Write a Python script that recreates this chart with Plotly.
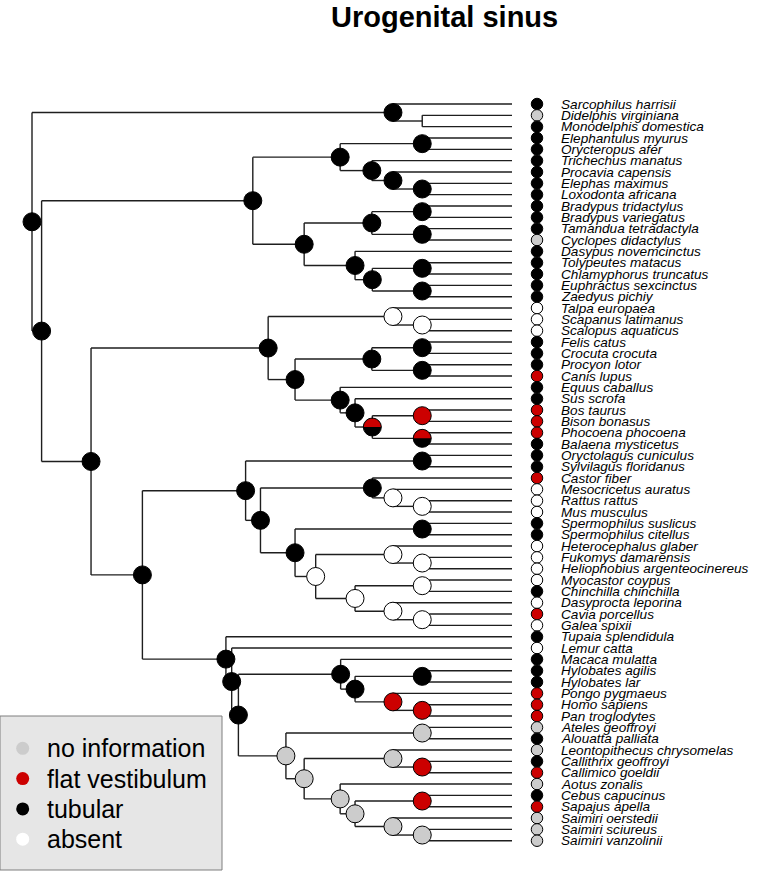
import numpy as np
import plotly.graph_objects as go

# ---------------- data ----------------
tip_names = [
    "Sarcophilus harrisii", "Didelphis virginiana", "Monodelphis domestica",
    "Elephantulus myurus", "Orycteropus afer", "Trichechus manatus",
    "Procavia capensis", "Elephas maximus", "Loxodonta africana",
    "Bradypus tridactylus", "Bradypus variegatus", "Tamandua tetradactyla",
    "Cyclopes didactylus", "Dasypus novemcinctus", "Tolypeutes matacus",
    "Chlamyphorus truncatus", "Euphractus sexcinctus", "Zaedyus pichiy",
    "Talpa europaea", "Scapanus latimanus", "Scalopus aquaticus",
    "Felis catus", "Crocuta crocuta", "Procyon lotor", "Canis lupus",
    "Equus caballus", "Sus scrofa", "Bos taurus", "Bison bonasus",
    "Phocoena phocoena", "Balaena mysticetus", "Oryctolagus cuniculus",
    "Sylvilagus floridanus", "Castor fiber", "Mesocricetus auratus",
    "Rattus rattus", "Mus musculus", "Spermophilus suslicus",
    "Spermophilus citellus", "Heterocephalus glaber", "Fukomys damarensis",
    "Heliophobius argenteocinereus", "Myocastor coypus", "Chinchilla chinchilla",
    "Dasyprocta leporina", "Cavia porcellus", "Galea spixii",
    "Tupaia splendidula", "Lemur catta", "Macaca mulatta", "Hylobates agilis",
    "Hylobates lar", "Pongo pygmaeus", "Homo sapiens", "Pan troglodytes",
    "Ateles geoffroyi", "Alouatta palliata", "Leontopithecus chrysomelas",
    "Callithrix geoffroyi", "Callimico goeldii", "Aotus zonalis",
    "Cebus capucinus", "Sapajus apella", "Saimiri oerstedii",
    "Saimiri sciureus", "Saimiri vanzolinii",
]

# T = tubular, F = flat vestibulum, N = no information, A = absent
tip_states = list(
    "TNTTTTTTTTTTNTTTTT"   # 1-18
    "AAA"                  # 19-21
    "TTTFTTFFFT"           # 22-31
    "TTF"                  # 32-34
    "AAATTAAAATAFA"        # 35-47
    "TATTTFFF"             # 48-55
    "NTNTFNTFNNN"          # 56-66
)

tip_parent = [1, 2, 2, 6, 6, 7, 8, 9, 9, 12, 12, 13, 13, 14, 16, 16, 17, 17,
              20, 21, 21, 24, 24, 25, 25, 26, 27, 29, 29, 30, 30, 33, 33, 35,
              36, 37, 37, 39, 39, 41, 42, 42, 44, 44, 45, 46, 46, 47, 48, 50,
              52, 52, 53, 54, 54, 56, 56, 58, 59, 59, 60, 62, 62, 63, 64, 64]

node_parent = [None, 0, 1, 0, 3, 4, 5, 5, 7, 8, 4, 10, 11, 11, 10, 14, 15, 15,
               3, 18, 19, 20, 19, 22, 23, 23, 22, 26, 27, 28, 28, 18, 31, 32,
               32, 34, 35, 36, 34, 38, 38, 40, 41, 40, 43, 43, 45, 31, 47, 48,
               49, 50, 51, 51, 53, 49, 55, 55, 57, 58, 57, 60, 61, 61, 63]

# node depth from the root (tips at 100)
node_depth = [0, 75.2, 81.3, 2.0, 46.0, 64.2, 81.3, 70.8, 75.2, 81.3,
              56.7, 70.8, 81.3, 81.3, 67.3, 70.9, 81.3, 81.3, 12.3, 49.2,
              75.2, 81.3, 54.8, 70.8, 81.3, 81.3, 64.2, 67.3, 70.9, 81.3,
              81.3, 23.0, 44.5, 81.3, 47.6, 70.9, 75.2, 81.3, 54.8, 81.3,
              59.1, 75.2, 81.3, 67.3, 81.3, 75.2, 81.3, 40.4, 41.6, 43.0,
              64.3, 67.3, 81.3, 75.2, 81.3, 52.9, 81.3, 56.7, 75.2, 81.3,
              64.2, 67.3, 81.3, 75.2, 81.3]

# reconstructed ancestral state per node ("" = not shown, "S" = split pie)
node_state = [
    "T", "T", "", "T", "T", "T", "T", "T", "T", "T",      # 0-9
    "T", "T", "T", "T", "T", "T", "T", "T", "T", "T",     # 10-19
    "A", "A", "T", "T", "T", "T", "T", "T", "S", "F",     # 20-29
    "S", "T", "T", "T", "T", "T", "A", "A", "T", "T",     # 30-39
    "A", "A", "A", "A", "A", "A", "A", "T", "T", "T",     # 40-49
    "T", "T", "T", "F", "F", "N", "N", "N", "N", "F",     # 50-59
    "N", "N", "F", "N", "N",                              # 60-64
]
# pie fractions for the split nodes: (flat, tubular)
split_fractions = {28: [("F", 0.5), ("T", 0.5)], 30: [("F", 0.5), ("T", 0.5)]}

state_labels = {"N": "no information", "F": "flat vestibulum",
                "T": "tubular", "A": "absent"}
legend_order = ["N", "F", "T", "A"]
state_colors = {"N": "#cccccc", "F": "#cc0000", "T": "#000000", "A": "#ffffff"}

title_text = "Urogenital sinus"

# ---------------- geometry ----------------
W, H = 757, 871
X0_PX, X100_PX = 32, 512          # depth 0 / depth 100 in pixels
Y0_PX, DY_PX = 104, 11.334        # first tip and tip spacing in pixels
px_per_d = (X100_PX - X0_PX) / 100.0
x_range = [-X0_PX / px_per_d, (W - X0_PX) / px_per_d]
y_range = [(H - Y0_PX) / DY_PX, -Y0_PX / DY_PX]
TIP_DEPTH = 100.0
DOT_DEPTH = (537 - X0_PX) / px_per_d
LABEL_DEPTH = (559 - X0_PX) / px_per_d

n_nodes = len(node_parent)
n_tips = len(tip_names)

children = {i: [] for i in range(n_nodes)}
for t, p in enumerate(tip_parent):
    children[p].append(("tip", t))
for n, p in enumerate(node_parent):
    if p is not None:
        children[p].append(("node", n))

tip_y = list(range(n_tips))
node_y = [None] * n_nodes


def get_y(kind, idx):
    if kind == "tip":
        return tip_y[idx]
    if node_y[idx] is None:
        ys = [get_y(k, i) for k, i in children[idx]]
        node_y[idx] = (min(ys) + max(ys)) / 2.0
    return node_y[idx]


for n in range(n_nodes):
    get_y("node", n)

# branches
lx, ly = [], []
for n in range(n_nodes):
    ys = [get_y(k, i) for k, i in children[n]]
    lx += [node_depth[n], node_depth[n], None]
    ly += [min(ys), max(ys), None]
    for k, i in children[n]:
        cd = TIP_DEPTH if k == "tip" else node_depth[i]
        lx += [node_depth[n], cd, None]
        ly += [get_y(k, i), get_y(k, i), None]

fig = go.Figure()
fig.add_trace(go.Scatter(x=lx, y=ly, mode="lines",
                         line=dict(color="#1e1e1e", width=1.4),
                         hoverinfo="skip", showlegend=False))

# internal node pies
nx, ny, nc = [], [], []
for n in range(n_nodes):
    s = node_state[n]
    if s == "":
        continue
    nx.append(node_depth[n])
    ny.append(node_y[n])
    nc.append(state_colors["T"] if s == "S" else state_colors[s])
fig.add_trace(go.Scatter(x=nx, y=ny, mode="markers",
                         marker=dict(size=18, color=nc,
                                     line=dict(color="#000000", width=1)),
                         hoverinfo="skip", showlegend=False))

shapes = []
R = 8.4
for n, fr in split_fractions.items():
    a0 = 0.0
    for st, f in fr:
        a1 = a0 + f * 2 * np.pi
        if st != "T":
            angs = np.linspace(a0, a1, 40)
            pts = ["M 0,0"] + ["L %.2f,%.2f" % (R * np.cos(a), R * np.sin(a)) for a in angs] + ["Z"]
            shapes.append(dict(type="path", xref="x", yref="y",
                               xsizemode="pixel", ysizemode="pixel",
                               xanchor=node_depth[n], yanchor=node_y[n],
                               path=" ".join(pts), fillcolor=state_colors[st],
                               line=dict(width=0), layer="above"))
        a0 = a1

# tip dots
fig.add_trace(go.Scatter(x=[DOT_DEPTH] * n_tips, y=tip_y, mode="markers",
                         marker=dict(size=11.5, color=[state_colors[s] for s in tip_states],
                                     line=dict(color="#000000", width=1)),
                         hoverinfo="skip", showlegend=False))

annotations = []
for t, name in enumerate(tip_names):
    annotations.append(dict(x=LABEL_DEPTH, y=tip_y[t], xref="x", yref="y",
                            text=name, showarrow=False, xanchor="left",
                            yanchor="middle",
                            font=dict(family="Liberation Sans, Arial", size=13.6,
                                      color="#000000", style="italic")))

annotations.append(dict(x=444 / W, y=1.0, xref="paper", yref="paper",
                        text="<b>%s</b>" % title_text, showarrow=False,
                        xanchor="center", yanchor="top", borderpad=0,
                        font=dict(family="Liberation Sans, Arial", size=29,
                                  color="#000000")))

# legend box (own small axes)
LEG_L, LEG_R, LEG_T, LEG_B = 0, 222, 716, 870
ROW0, ROW_DY = 748.3, 30.3
leg_y_range = [(LEG_B - ROW0) / ROW_DY, (LEG_T - ROW0) / ROW_DY]
shapes.append(dict(type="rect", xref="x2 domain", yref="y2 domain",
                   x0=0, x1=1, y0=0, y1=1, fillcolor="#e6e6e6",
                   line=dict(color="#7f7f7f", width=1), layer="below"))
leg_rows = list(range(len(legend_order)))
fig.add_trace(go.Scatter(x=[22.7] * len(legend_order), y=leg_rows, xaxis="x2", yaxis="y2",
                         mode="markers",
                         marker=dict(size=13, color=[state_colors[s] for s in legend_order],
                                     line=dict(width=0)),
                         hoverinfo="skip", showlegend=False))
for r, s in zip(leg_rows, legend_order):
    annotations.append(dict(x=45, y=r, xref="x2", yref="y2", text=state_labels[s],
                            showarrow=False, xanchor="left", yanchor="middle",
                            font=dict(family="Liberation Sans, Arial", size=25,
                                      color="#000000")))

fig.update_layout(
    width=W, height=H, margin=dict(l=0, r=0, t=0, b=0),
    paper_bgcolor="#ffffff", plot_bgcolor="rgba(0,0,0,0)",
    showlegend=False,
    xaxis=dict(range=x_range, visible=False, domain=[0, 1], fixedrange=True),
    yaxis=dict(range=y_range, visible=False, domain=[0, 1], fixedrange=True),
    xaxis2=dict(range=[LEG_L, LEG_R], visible=False, anchor="y2",
                domain=[LEG_L / W, LEG_R / W], fixedrange=True),
    yaxis2=dict(range=leg_y_range, visible=False, anchor="x2",
                domain=[(H - LEG_B) / H, (H - LEG_T) / H], fixedrange=True),
    shapes=shapes, annotations=annotations,
)

fig.write_html("out.html", config={"displayModeBar": False},
               post_script="document.body.style.margin='0px';document.body.style.overflow='hidden';")
